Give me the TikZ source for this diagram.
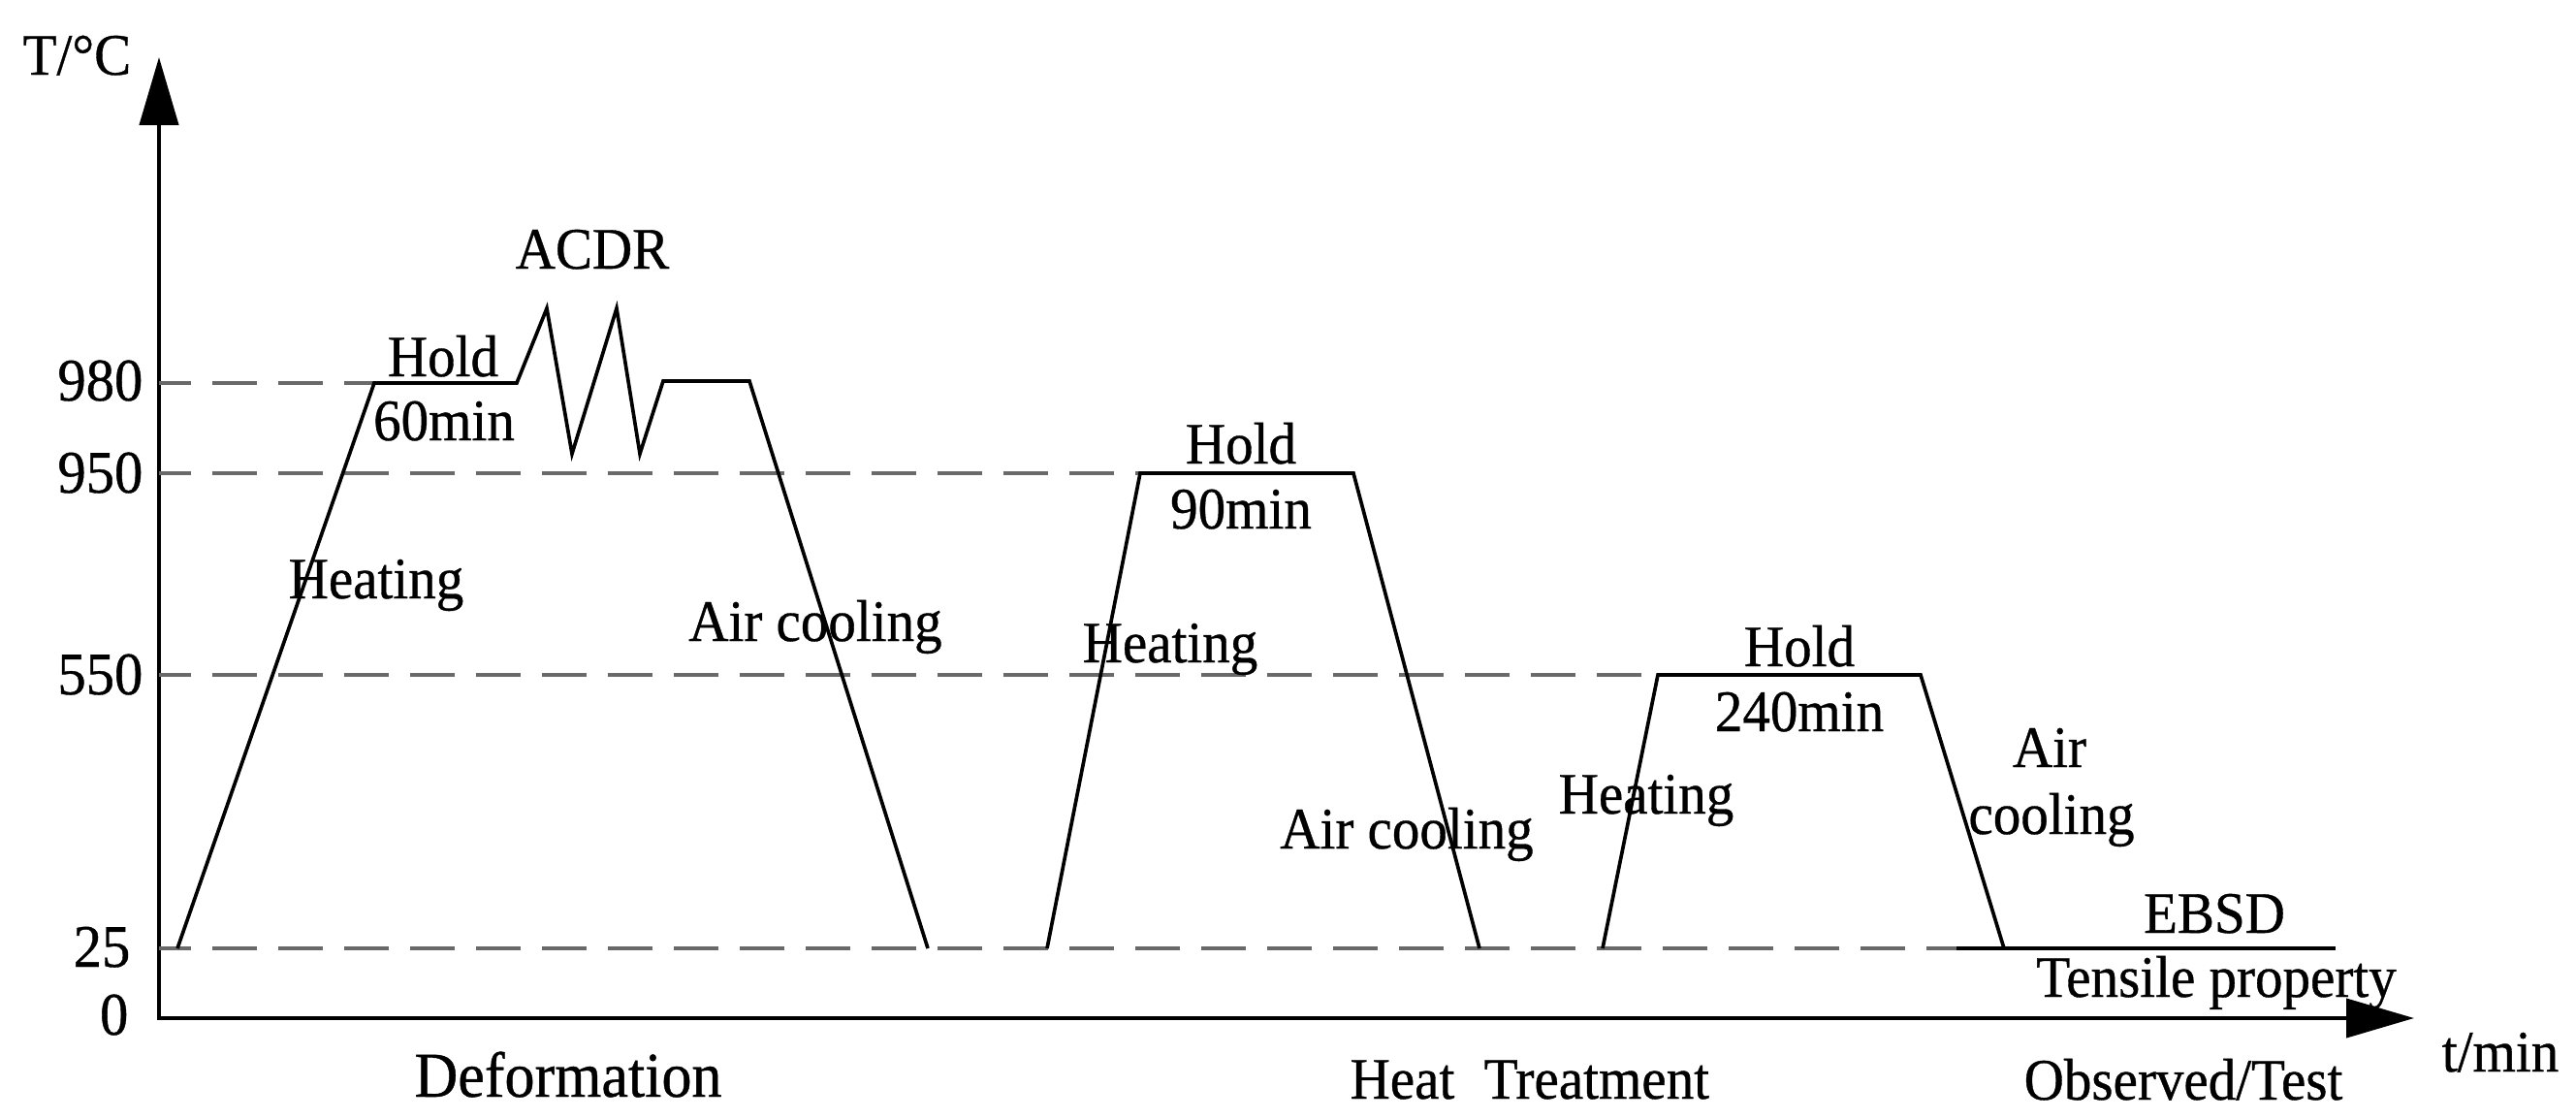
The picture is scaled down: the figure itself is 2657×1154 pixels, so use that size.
\documentclass[tikz,border=0pt]{standalone}
\usepackage{fontspec}
\setmainfont{Liberation Serif}[FakeStretch=0.94,FakeBold=0.6]
\usetikzlibrary{arrows.meta}
\definecolor{dashgray}{RGB}{105,105,105}
\tikzset{
  axisline/.style={line width=1.25pt, black, {Triangle[length=21pt,width=12pt]}-{Triangle[length=21pt,width=12pt]}},
  profile/.style={line width=1.1pt, black, line join=miter},
  levelline/.style={line width=1pt, dashgray, dash pattern=on 13.8pt off 6.6pt, dash phase=3.9pt},
  lbl/.style={inner sep=0pt, anchor=base, font=\fontsize{18.2pt}{21pt}\selectfont},
  biglbl/.style={inner sep=0pt, anchor=base, font=\fontsize{19.8pt}{23pt}\selectfont},
  ticklbl/.style={inner sep=0pt, anchor=base east, font=\fontsize{18.7pt}{21pt}\selectfont}
}
\begin{document}
\begin{tikzpicture}[x=0.3pt,y=-0.3pt]
\useasboundingbox (0,0) rectangle (2657,1154);
% axes
\coordinate (ytip) at (164,59);
\coordinate (origin) at (164,1050);
\coordinate (xtip) at (2490,1050);
\draw[axisline] (ytip) -- (origin) -- (xtip);
% level lines
\coordinate (l980) at (164,395);
\coordinate (l950) at (164,488);
\coordinate (l550) at (164,696);
\coordinate (l25) at (164,978);
% profile 1 (deformation)
\coordinate (a0) at (183,978);
\coordinate (a1) at (386,395);
\coordinate (a2) at (533,395);
\coordinate (a3) at (564,318);
\coordinate (a4) at (590,468);
\coordinate (a5) at (636,318);
\coordinate (a6) at (660,468);
\coordinate (a7) at (684,393);
\coordinate (a8) at (773,393);
\coordinate (a9) at (957,978);
% profile 2
\coordinate (b0) at (1080,978);
\coordinate (b1) at (1176,488);
\coordinate (b2) at (1396,488);
\coordinate (b3) at (1526,978);
% profile 3
\coordinate (c0) at (1653,978);
\coordinate (c1) at (1710,696);
\coordinate (c2) at (1981,696);
\coordinate (c3) at (2067,978);
% observation line
\coordinate (d0) at (2018,978);
\coordinate (d1) at (2409,978);

\draw[levelline] (l980) -- (a1);
\draw[levelline] (l950) -- (b1);
\draw[levelline] (l550) -- (c1);
\draw[levelline] (l25) -- (d0);

\draw[profile] (a0) -- (a1) -- (a2) -- (a3) -- (a4) -- (a5) -- (a6) -- (a7) -- (a8) -- (a9);
\draw[profile] (b0) -- (b1) -- (b2) -- (b3);
\draw[profile] (c0) -- (c1) -- (c2) -- (c3);
\draw[profile, line width=1.25pt] (d0) -- (d1);

% axis labels
\node[lbl, anchor=base west] (ylab) at (23,77) {T/°C};
\node[lbl] (xlab) at (2579,1105) {t/min};
\node[ticklbl] (t980) at (148,413) {980};
\node[ticklbl] (t950) at (148,508) {950};
\node[ticklbl] (t550) at (148,716) {550};
\node[ticklbl] (t25) at (135,997) {25};
\node[ticklbl] (t0) at (133,1067) {0};

% stage 1 labels
\node[lbl] (acdr) at (611,277) {ACDR};
\node[lbl] (hold1) at (457,388) {Hold};
\node[lbl] (min60) at (458,454) {60min};
\node[lbl] (heat1) at (388,617) {Heating};
\node[lbl] (cool1) at (841,661) {Air cooling};

% stage 2 labels
\node[lbl] (hold2) at (1280,478) {Hold};
\node[lbl] (min90) at (1280,545) {90min};
\node[lbl] (heat2) at (1207,683) {Heating};
\node[lbl] (cool2) at (1451,875) {Air cooling};

% stage 3 labels
\node[lbl] (hold3) at (1856,687) {Hold};
\node[lbl] (min240) at (1856,754) {240min};
\node[lbl] (heat3) at (1698,839) {Heating};
\node[lbl] (air3) at (2114,791) {Air};
\node[lbl] (cool3) at (2116,860) {cooling};
\node[lbl] (ebsd) at (2284,962) {EBSD};
\node[lbl] (tens) at (2286,1028) {Tensile property};

% bottom labels
\node[biglbl] (deform) at (586,1131) {Deformation};
\node[lbl, anchor=base west] (heat) at (1392,1133) {Heat};
\node[lbl, anchor=base west] (treat) at (1530,1133) {Treatment};
\node[lbl] (obs) at (2252,1134) {Observed/Test};
\end{tikzpicture}
\end{document}
